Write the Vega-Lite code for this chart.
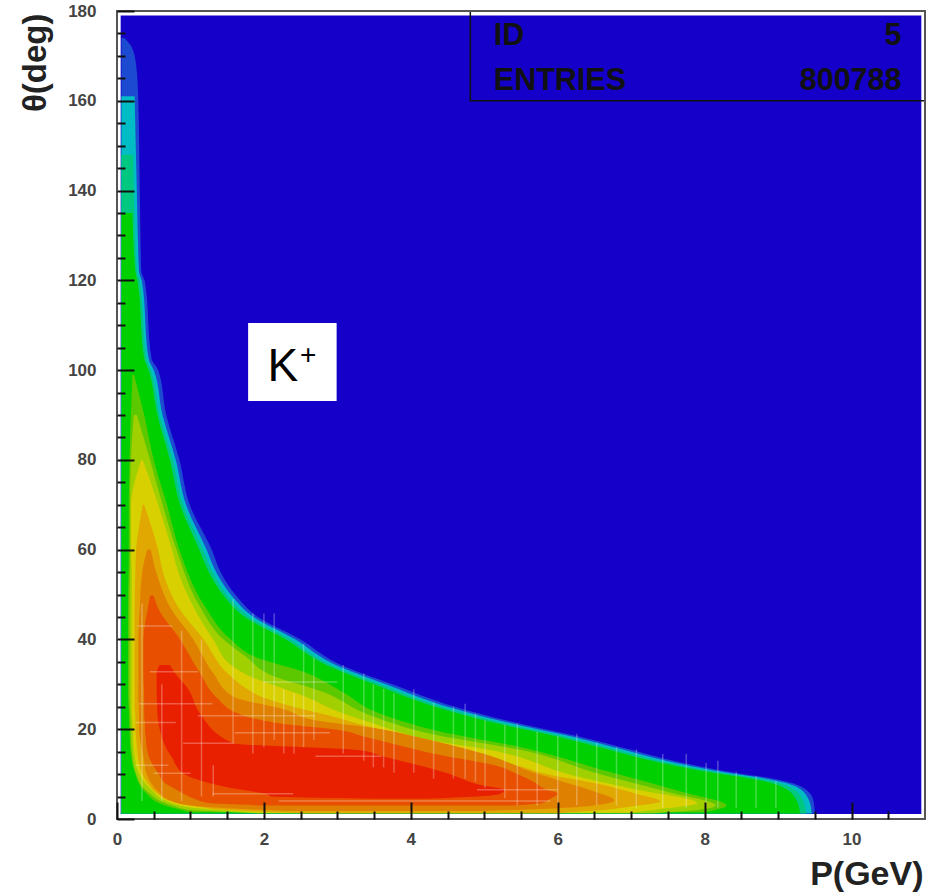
{
"$schema":"https://vega.github.io/schema/vega-lite/v6.json",
"width":808,"height":808,"autosize":"none","padding":{"left":117,"top":11,"right":11,"bottom":74},
"background":"white",
"view":{"stroke":null},
"datasets":{
"bands":[
{"level":"L0","theta":174,"left":0.06,"right":0.1},{"level":"L0","theta":172,"left":0.06,"right":0.2},{"level":"L0","theta":168,"left":0.06,"right":0.26},{"level":"L0","theta":160,"left":0.06,"right":0.29},{"level":"L0","theta":140,"left":0.06,"right":0.31},{"level":"L0","theta":122,"left":0.06,"right":0.33},{"level":"L0","theta":119.7,"left":0.06,"right":0.38},{"level":"L0","theta":102.6,"left":0.06,"right":0.47},{"level":"L0","theta":100,"left":0.06,"right":0.56},{"level":"L0","theta":90,"left":0.06,"right":0.67},{"level":"L0","theta":80,"left":0.06,"right":0.85},{"level":"L0","theta":70,"left":0.06,"right":0.99},{"level":"L0","theta":60,"left":0.06,"right":1.29},{"level":"L0","theta":54.7,"left":0.06,"right":1.42},{"level":"L0","theta":49.8,"left":0.06,"right":1.62},{"level":"L0","theta":45,"left":0.06,"right":1.92},{"level":"L0","theta":40,"left":0.06,"right":2.5},{"level":"L0","theta":34.7,"left":0.06,"right":3.0},{"level":"L0","theta":30,"left":0.06,"right":3.75},{"level":"L0","theta":25,"left":0.06,"right":4.6},{"level":"L0","theta":21,"left":0.06,"right":5.55},{"level":"L0","theta":18.7,"left":0.06,"right":6.2},{"level":"L0","theta":15,"left":0.06,"right":7.1},{"level":"L0","theta":13.1,"left":0.06,"right":7.55},{"level":"L0","theta":10.2,"left":0.06,"right":8.45},{"level":"L0","theta":9.1,"left":0.06,"right":8.9},{"level":"L0","theta":7.2,"left":0.06,"right":9.32},{"level":"L0","theta":4.2,"left":0.06,"right":9.48},{"level":"L0","theta":1.2,"left":0.06,"right":9.5},
{"level":"L1","theta":161,"left":0.06,"right":0.24},{"level":"L1","theta":140,"left":0.06,"right":0.27},{"level":"L1","theta":122,"left":0.06,"right":0.3},{"level":"L1","theta":119.7,"left":0.06,"right":0.34},{"level":"L1","theta":102.6,"left":0.06,"right":0.43},{"level":"L1","theta":100,"left":0.06,"right":0.5},{"level":"L1","theta":90,"left":0.06,"right":0.62},{"level":"L1","theta":80,"left":0.06,"right":0.8},{"level":"L1","theta":70,"left":0.06,"right":0.94},{"level":"L1","theta":60,"left":0.06,"right":1.22},{"level":"L1","theta":54.7,"left":0.06,"right":1.36},{"level":"L1","theta":49.8,"left":0.06,"right":1.56},{"level":"L1","theta":45,"left":0.06,"right":1.86},{"level":"L1","theta":40,"left":0.06,"right":2.43},{"level":"L1","theta":34.7,"left":0.06,"right":2.93},{"level":"L1","theta":30,"left":0.06,"right":3.66},{"level":"L1","theta":25,"left":0.06,"right":4.5},{"level":"L1","theta":21,"left":0.06,"right":5.45},{"level":"L1","theta":18.7,"left":0.06,"right":6.1},{"level":"L1","theta":15,"left":0.06,"right":7.0},{"level":"L1","theta":13.1,"left":0.06,"right":7.45},{"level":"L1","theta":10.2,"left":0.06,"right":8.35},{"level":"L1","theta":9.1,"left":0.06,"right":8.8},{"level":"L1","theta":7.2,"left":0.06,"right":9.25},{"level":"L1","theta":4.2,"left":0.06,"right":9.42},{"level":"L1","theta":1.2,"left":0.06,"right":9.46},
{"level":"L2","theta":148,"left":0.06,"right":0.22},{"level":"L2","theta":122,"left":0.06,"right":0.27},{"level":"L2","theta":119.7,"left":0.06,"right":0.31},{"level":"L2","theta":102.6,"left":0.06,"right":0.4},{"level":"L2","theta":100,"left":0.06,"right":0.46},{"level":"L2","theta":90,"left":0.06,"right":0.58},{"level":"L2","theta":80,"left":0.06,"right":0.76},{"level":"L2","theta":70,"left":0.06,"right":0.9},{"level":"L2","theta":60,"left":0.06,"right":1.17},{"level":"L2","theta":54.7,"left":0.06,"right":1.31},{"level":"L2","theta":49.8,"left":0.06,"right":1.5},{"level":"L2","theta":45,"left":0.06,"right":1.8},{"level":"L2","theta":40,"left":0.06,"right":2.36},{"level":"L2","theta":34.7,"left":0.06,"right":2.86},{"level":"L2","theta":30,"left":0.06,"right":3.58},{"level":"L2","theta":25,"left":0.06,"right":4.42},{"level":"L2","theta":21,"left":0.06,"right":5.35},{"level":"L2","theta":18.7,"left":0.06,"right":6.0},{"level":"L2","theta":15,"left":0.06,"right":6.9},{"level":"L2","theta":13.1,"left":0.06,"right":7.35},{"level":"L2","theta":10.2,"left":0.06,"right":8.25},{"level":"L2","theta":9.1,"left":0.06,"right":8.7},{"level":"L2","theta":7.2,"left":0.06,"right":9.15},{"level":"L2","theta":4.2,"left":0.06,"right":9.34},{"level":"L2","theta":1.2,"left":0.06,"right":9.38},
{"level":"L3","theta":135,"left":0.06,"right":0.21},{"level":"L3","theta":122,"left":0.06,"right":0.25},{"level":"L3","theta":119.7,"left":0.06,"right":0.28},{"level":"L3","theta":102.6,"left":0.06,"right":0.37},{"level":"L3","theta":100,"left":0.06,"right":0.43},{"level":"L3","theta":90,"left":0.06,"right":0.55},{"level":"L3","theta":80,"left":0.06,"right":0.72},{"level":"L3","theta":70,"left":0.06,"right":0.86},{"level":"L3","theta":60,"left":0.06,"right":1.12},{"level":"L3","theta":54.7,"left":0.06,"right":1.26},{"level":"L3","theta":49.8,"left":0.06,"right":1.45},{"level":"L3","theta":45,"left":0.06,"right":1.74},{"level":"L3","theta":40,"left":0.06,"right":2.3},{"level":"L3","theta":34.7,"left":0.06,"right":2.8},{"level":"L3","theta":30,"left":0.06,"right":3.5},{"level":"L3","theta":25,"left":0.06,"right":4.33},{"level":"L3","theta":21,"left":0.06,"right":5.25},{"level":"L3","theta":18.7,"left":0.06,"right":5.9},{"level":"L3","theta":15,"left":0.06,"right":6.8},{"level":"L3","theta":13.1,"left":0.06,"right":7.25},{"level":"L3","theta":10.2,"left":0.06,"right":8.15},{"level":"L3","theta":9.1,"left":0.06,"right":8.6},{"level":"L3","theta":7.2,"left":0.06,"right":9.05},{"level":"L3","theta":4.2,"left":0.06,"right":9.25},{"level":"L3","theta":1.2,"left":0.06,"right":9.3},
{"level":"L4","theta":99,"left":0.21,"right":0.23},{"level":"L4","theta":90,"left":0.19,"right":0.37},{"level":"L4","theta":80,"left":0.17,"right":0.5},{"level":"L4","theta":70,"left":0.16,"right":0.68},{"level":"L4","theta":60,"left":0.16,"right":0.85},{"level":"L4","theta":47.3,"left":0.15,"right":1.2},{"level":"L4","theta":40,"left":0.15,"right":1.55},{"level":"L4","theta":36,"left":0.15,"right":1.9},{"level":"L4","theta":33,"left":0.15,"right":2.5},{"level":"L4","theta":28,"left":0.15,"right":3.1},{"level":"L4","theta":24,"left":0.16,"right":3.5},{"level":"L4","theta":19.5,"left":0.17,"right":4.4},{"level":"L4","theta":16,"left":0.18,"right":5.5},{"level":"L4","theta":10.5,"left":0.24,"right":6.7},{"level":"L4","theta":6,"left":0.38,"right":7.7},{"level":"L4","theta":3,"left":0.65,"right":8.3},{"level":"L4","theta":1.5,"left":1.0,"right":8.0},
{"level":"L5","theta":90,"left":0.23,"right":0.27},{"level":"L5","theta":80,"left":0.19,"right":0.45},{"level":"L5","theta":70,"left":0.18,"right":0.62},{"level":"L5","theta":60,"left":0.18,"right":0.81},{"level":"L5","theta":47.3,"left":0.17,"right":1.13},{"level":"L5","theta":40,"left":0.17,"right":1.45},{"level":"L5","theta":36,"left":0.17,"right":1.77},{"level":"L5","theta":32.4,"left":0.17,"right":2.05},{"level":"L5","theta":28,"left":0.17,"right":2.85},{"level":"L5","theta":23.4,"left":0.18,"right":3.4},{"level":"L5","theta":18.9,"left":0.19,"right":4.3},{"level":"L5","theta":15.4,"left":0.2,"right":5.49},{"level":"L5","theta":10,"left":0.26,"right":6.57},{"level":"L5","theta":6,"left":0.42,"right":7.5},{"level":"L5","theta":3,"left":0.75,"right":8.15},{"level":"L5","theta":2,"left":1.0,"right":7.9},{"level":"L5","theta":1.3,"left":1.9,"right":7.3},
{"level":"L6","theta":80,"left":0.33,"right":0.35},{"level":"L6","theta":75,"left":0.24,"right":0.46},{"level":"L6","theta":70,"left":0.19,"right":0.56},{"level":"L6","theta":60,"left":0.19,"right":0.75},{"level":"L6","theta":54.7,"left":0.2,"right":0.84},{"level":"L6","theta":47.3,"left":0.2,"right":1.04},{"level":"L6","theta":40,"left":0.2,"right":1.31},{"level":"L6","theta":34,"left":0.2,"right":1.58},{"level":"L6","theta":31.5,"left":0.2,"right":1.85},{"level":"L6","theta":30,"left":0.2,"right":2.1},{"level":"L6","theta":27,"left":0.2,"right":2.6},{"level":"L6","theta":24,"left":0.2,"right":3.0},{"level":"L6","theta":21.8,"left":0.21,"right":3.4},{"level":"L6","theta":17.5,"left":0.22,"right":4.3},{"level":"L6","theta":15,"left":0.23,"right":5.2},{"level":"L6","theta":13.9,"left":0.24,"right":5.45},{"level":"L6","theta":10.2,"left":0.3,"right":6.1},{"level":"L6","theta":6.8,"left":0.45,"right":7.0},{"level":"L6","theta":3.5,"left":0.75,"right":7.9},{"level":"L6","theta":2.2,"left":1.2,"right":7.4},{"level":"L6","theta":1.4,"left":1.9,"right":7.0},
{"level":"L7","theta":70,"left":0.35,"right":0.37},{"level":"L7","theta":65,"left":0.3,"right":0.47},{"level":"L7","theta":60,"left":0.26,"right":0.56},{"level":"L7","theta":54.7,"left":0.25,"right":0.63},{"level":"L7","theta":47.3,"left":0.24,"right":0.83},{"level":"L7","theta":40,"left":0.24,"right":1.18},{"level":"L7","theta":32.5,"left":0.24,"right":1.5},{"level":"L7","theta":29.5,"left":0.24,"right":1.72},{"level":"L7","theta":27,"left":0.24,"right":2.0},{"level":"L7","theta":25,"left":0.24,"right":2.4},{"level":"L7","theta":23,"left":0.25,"right":2.9},{"level":"L7","theta":20.7,"left":0.25,"right":3.4},{"level":"L7","theta":18,"left":0.26,"right":4.1},{"level":"L7","theta":14.5,"left":0.28,"right":4.9},{"level":"L7","theta":11.7,"left":0.31,"right":5.5},{"level":"L7","theta":10.2,"left":0.34,"right":5.8},{"level":"L7","theta":8,"left":0.42,"right":6.5},{"level":"L7","theta":5.7,"left":0.55,"right":7.05},{"level":"L7","theta":3.9,"left":0.75,"right":7.4},{"level":"L7","theta":2.8,"left":1.1,"right":7.0},{"level":"L7","theta":2,"left":1.5,"right":6.6},{"level":"L7","theta":1.3,"left":2.5,"right":6.0},
{"level":"L8","theta":60,"left":0.41,"right":0.46},{"level":"L8","theta":54.7,"left":0.34,"right":0.54},{"level":"L8","theta":47.3,"left":0.31,"right":0.72},{"level":"L8","theta":40,"left":0.29,"right":1.04},{"level":"L8","theta":32.5,"left":0.29,"right":1.31},{"level":"L8","theta":27.3,"left":0.29,"right":1.58},{"level":"L8","theta":24.3,"left":0.3,"right":2.3},{"level":"L8","theta":22,"left":0.3,"right":2.7},{"level":"L8","theta":20,"left":0.3,"right":3.6},{"level":"L8","theta":18.2,"left":0.31,"right":4.1},{"level":"L8","theta":14,"left":0.36,"right":5.1},{"level":"L8","theta":10.2,"left":0.4,"right":5.7},{"level":"L8","theta":8.7,"left":0.44,"right":6.0},{"level":"L8","theta":6.1,"left":0.56,"right":6.5},{"level":"L8","theta":4.1,"left":0.72,"right":6.77},{"level":"L8","theta":3,"left":0.99,"right":6.5},{"level":"L8","theta":2.4,"left":1.5,"right":6.0},{"level":"L8","theta":1.8,"left":2.3,"right":5.0},
{"level":"L9","theta":49.8,"left":0.45,"right":0.5},{"level":"L9","theta":47,"left":0.42,"right":0.56},{"level":"L9","theta":40,"left":0.36,"right":0.86},{"level":"L9","theta":32.5,"left":0.36,"right":1.13},{"level":"L9","theta":27,"left":0.37,"right":1.36},{"level":"L9","theta":23.3,"left":0.37,"right":1.68},{"level":"L9","theta":21,"left":0.38,"right":2.36},{"level":"L9","theta":20,"left":0.38,"right":2.95},{"level":"L9","theta":18.2,"left":0.39,"right":3.4},{"level":"L9","theta":14.6,"left":0.42,"right":4.3},{"level":"L9","theta":11.7,"left":0.5,"right":5.2},{"level":"L9","theta":10,"left":0.57,"right":5.45},{"level":"L9","theta":8.3,"left":0.63,"right":5.67},{"level":"L9","theta":6.5,"left":0.81,"right":5.85},{"level":"L9","theta":5.7,"left":0.9,"right":6.0},{"level":"L9","theta":4.5,"left":1.05,"right":5.9},{"level":"L9","theta":3.5,"left":1.27,"right":5.78},{"level":"L9","theta":3,"left":2.0,"right":5.4},
{"level":"L10","theta":34.3,"left":0.58,"right":0.72},{"level":"L10","theta":32.5,"left":0.54,"right":0.79},{"level":"L10","theta":28.9,"left":0.54,"right":0.97},{"level":"L10","theta":23.5,"left":0.55,"right":1.13},{"level":"L10","theta":16.9,"left":0.64,"right":1.58},{"level":"L10","theta":15.4,"left":0.68,"right":3.26},{"level":"L10","theta":13.9,"left":0.74,"right":3.63},{"level":"L10","theta":10.2,"left":0.9,"right":4.5},{"level":"L10","theta":7.6,"left":1.36,"right":4.95},{"level":"L10","theta":6.5,"left":1.7,"right":5.28},{"level":"L10","theta":5.5,"left":2.05,"right":5.2},{"level":"L10","theta":5,"left":2.1,"right":4.9},{"level":"L10","theta":4.5,"left":3.5,"right":4.2}
],
"plate":[{"x":0.05,"x2":10.95,"y":1.1,"y2":179}],
"stats":[{"x":4.81,"x2":11,"y":160,"y2":180}],
"whitebox":[{"x":1.785,"x2":2.99,"y":93.1,"y2":110.5}],
"statText":[{"x":5.13,"y":172.5,"label":"ID"},{"x":5.13,"y":162.5,"label":"ENTRIES"}],
"statValue":[{"x":10.68,"y":172.5,"label":"5"},{"x":10.68,"y":162.5,"label":"800788"}],
"k":[{"x":2.05,"y":97.5,"label":"K"}],
"plus":[{"x":2.49,"y":101.4,"label":"+"}],
"grainV":[
{"p":0.34,"t1":4,"t2":48},{"p":0.61,"t1":4,"t2":30},{"p":0.88,"t1":4,"t2":42},{"p":1.15,"t1":5,"t2":40},{"p":1.31,"t1":5,"t2":12},{"p":1.58,"t1":17,"t2":49},{"p":1.85,"t1":14.6,"t2":45.8},{"p":2.0,"t1":16,"t2":45.8},{"p":2.14,"t1":17.6,"t2":45.8},{"p":2.27,"t1":14.6,"t2":28.8},{"p":2.41,"t1":14.6,"t2":28},{"p":2.54,"t1":16,"t2":39},{"p":2.68,"t1":17.6,"t2":36},{"p":3.08,"t1":14.6,"t2":34.3},{"p":3.36,"t1":13,"t2":32.4},{"p":3.49,"t1":11.5,"t2":30},{"p":3.63,"t1":11.5,"t2":29},{"p":3.77,"t1":10.3,"t2":28},{"p":4.04,"t1":10.3,"t2":28.9},{"p":4.31,"t1":9,"t2":26},{"p":4.58,"t1":9,"t2":25},{"p":4.74,"t1":9,"t2":25.7},{"p":4.88,"t1":8.3,"t2":23.5},{"p":5.01,"t1":6.9,"t2":22},{"p":5.28,"t1":4.6,"t2":21},{"p":5.45,"t1":3,"t2":21.3},{"p":5.72,"t1":3,"t2":19.5},{"p":6.0,"t1":3,"t2":18.5},{"p":6.26,"t1":3,"t2":19},{"p":6.53,"t1":3,"t2":17},{"p":6.8,"t1":3,"t2":16},{"p":7.07,"t1":2.5,"t2":15.5},{"p":7.43,"t1":2.5,"t2":14.5},{"p":7.75,"t1":2.5,"t2":14.5},{"p":8.02,"t1":2.5,"t2":12.5},{"p":8.18,"t1":2.5,"t2":13},{"p":8.43,"t1":2.5,"t2":10.5},{"p":8.7,"t1":2.5,"t2":9.5},{"p":8.97,"t1":2.5,"t2":8.5}
],
"grainH":[
{"t":32.8,"p1":0.45,"p2":1.1},{"t":25.7,"p1":0.3,"p2":1.3},{"t":21.5,"p1":0.25,"p2":0.8},{"t":16.9,"p1":0.9,"p2":1.6},{"t":10.2,"p1":0.5,"p2":1.0},{"t":5.6,"p1":1.3,"p2":2.4},{"t":4,"p1":2.2,"p2":5.9},{"t":23,"p1":1.1,"p2":2.7},{"t":19.2,"p1":1.6,"p2":2.9},{"t":14,"p1":2.7,"p2":3.6},{"t":6.5,"p1":4.9,"p2":6.0},{"t":30.5,"p1":2.0,"p2":3.0},{"t":43,"p1":0.28,"p2":0.75},{"t":12,"p1":0.25,"p2":0.7}
]
},
"layer":[
{"data":{"name":"plate"},"mark":{"type":"rect","fill":"#1400c8"},
 "encoding":{
  "x":{"field":"x","type":"quantitative","scale":{"domain":[0,11],"nice":false},
   "axis":{"orient":"bottom","values":[0,2,4,6,8,10],"grid":false,"title":"P(GeV)","titleFont":"Liberation Sans","titleFontWeight":"bold","titleFontSize":34,"titleColor":"#222","titleAnchor":"end","titleX":806,"titleY":65,"titleBaseline":"alphabetic","labelFont":"Liberation Sans","labelFontWeight":"bold","labelFontSize":17,"labelColor":"#444","labelPadding":29,"tickSize":-17,"tickColor":"#111","tickWidth":2,"domain":false,"zindex":1,"format":"d","labelFlush":false}},
  "x2":{"field":"x2"},
  "y":{"field":"y","type":"quantitative","scale":{"domain":[0,180],"nice":false},
   "axis":{"orient":"left","values":[0,20,40,60,80,100,120,140,160,180],"grid":false,"title":"θ(deg)","titleFont":"Liberation Sans","titleFontWeight":"bold","titleFontSize":33,"titleColor":"#222","titleAnchor":"end","titleX":-72,"titleY":2,"titleAngle":-90,"titleAlign":"right","titleBaseline":"alphabetic","labelFont":"Liberation Sans","labelFontWeight":"bold","labelFontSize":17,"labelColor":"#444","labelPadding":38,"tickSize":-17,"tickColor":"#111","tickWidth":2,"domain":false,"zindex":1,"labelFlush":false}},
  "y2":{"field":"y2"}
 }},
{"data":{"name":"bands"},"mark":{"type":"area","orient":"horizontal","interpolate":"monotone"},
 "encoding":{
  "y":{"field":"theta","type":"quantitative","axis":null},
  "x":{"field":"left","type":"quantitative","axis":null},
  "x2":{"field":"right"},
  "color":{"field":"level","type":"nominal","legend":null,"sort":null,
   "scale":{"domain":["L0","L1","L2","L3","L4","L5","L6","L7","L8","L9","L10"],
            "range":["#1c4ad0","#00bcc4","#00c880","#00d000","#5cc800","#a0d000","#d8d000","#e0a800","#e08000","#e85000","#e82000"]}}
 }},
{"data":{"name":"grainV"},"mark":{"type":"rule","color":"#ffffff","opacity":0.28,"strokeWidth":1.5},
 "encoding":{"x":{"field":"p","type":"quantitative","axis":null},"y":{"field":"t1","type":"quantitative","axis":null},"y2":{"field":"t2"}}},
{"data":{"name":"grainH"},"mark":{"type":"rule","color":"#ffffff","opacity":0.28,"strokeWidth":1.5},
 "encoding":{"y":{"field":"t","type":"quantitative","axis":null},"x":{"field":"p1","type":"quantitative","axis":null},"x2":{"field":"p2"}}},
{"data":{"name":"stats"},"mark":{"type":"rect","fill":null,"stroke":"#111","strokeWidth":1.5},
 "encoding":{"x":{"field":"x","type":"quantitative","axis":null},"x2":{"field":"x2"},"y":{"field":"y","type":"quantitative","axis":null},"y2":{"field":"y2"}}},
{"data":{"name":"whitebox"},"mark":{"type":"rect","fill":"white"},
 "encoding":{"x":{"field":"x","type":"quantitative","axis":null},"x2":{"field":"x2"},"y":{"field":"y","type":"quantitative","axis":null},"y2":{"field":"y2"}}},
{"data":{"name":"statText"},"mark":{"type":"text","align":"left","baseline":"alphabetic","font":"Liberation Sans","fontWeight":"bold","fontSize":30.5,"color":"#111"},
 "encoding":{"x":{"field":"x","type":"quantitative","axis":null},"y":{"field":"y","type":"quantitative","axis":null},"text":{"field":"label"}}},
{"data":{"name":"statValue"},"mark":{"type":"text","align":"right","baseline":"alphabetic","font":"Liberation Sans","fontWeight":"bold","fontSize":30.5,"color":"#111"},
 "encoding":{"x":{"field":"x","type":"quantitative","axis":null},"y":{"field":"y","type":"quantitative","axis":null},"text":{"field":"label"}}},
{"data":{"name":"k"},"mark":{"type":"text","align":"left","baseline":"alphabetic","font":"Liberation Sans","fontSize":46,"color":"#000"},
 "encoding":{"x":{"field":"x","type":"quantitative","axis":null},"y":{"field":"y","type":"quantitative","axis":null},"text":{"field":"label"}}},
{"data":{"name":"plus"},"mark":{"type":"text","align":"left","baseline":"alphabetic","font":"Liberation Sans","fontSize":28,"color":"#000"},
 "encoding":{"x":{"field":"x","type":"quantitative","axis":null},"y":{"field":"y","type":"quantitative","axis":null},"text":{"field":"label"}}},
{"data":{"values":[{"x":0,"x2":11,"y":0,"y2":180}]},"mark":{"type":"rect","fill":null,"stroke":"#555","strokeWidth":2},
 "encoding":{"x":{"field":"x","type":"quantitative",
   "axis":{"orient":"bottom","values":[0.5,1,1.5,2.5,3,3.5,4.5,5,5.5,6.5,7,7.5,8.5,9,9.5,10.5],"labels":false,"title":null,"grid":false,"domain":false,"tickSize":-8,"tickColor":"#111","tickWidth":2,"zindex":1}},
  "x2":{"field":"x2"},
  "y":{"field":"y","type":"quantitative",
   "axis":{"orient":"left","values":[5,10,15,25,30,35,45,50,55,65,70,75,85,90,95,105,110,115,125,130,135,145,150,155,165,170,175],"labels":false,"title":null,"grid":false,"domain":false,"tickSize":-8,"tickColor":"#111","tickWidth":2,"zindex":1}},
  "y2":{"field":"y2"}}}
],
"resolve":{"axis":{"x":"independent","y":"independent"},"scale":{"x":"shared","y":"shared"}}
}
